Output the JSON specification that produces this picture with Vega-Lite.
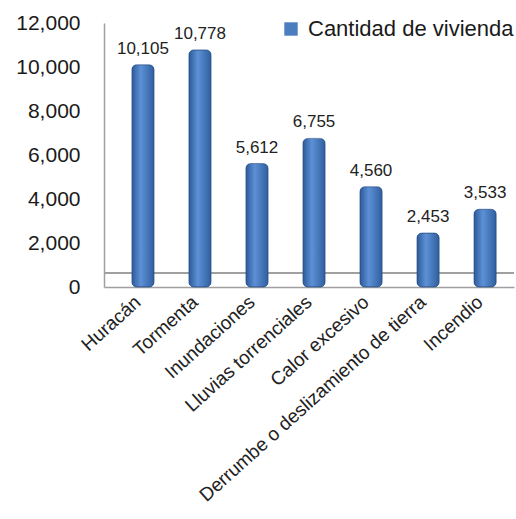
{
  "$schema": "https://vega.github.io/schema/vega-lite/v6.json",
  "autosize": {"type": "none"},
  "width": 410,
  "height": 264,
  "padding": {"left": 104, "top": 23, "right": 2, "bottom": 232},
  "background": "#ffffff",
  "config": {"view": {"stroke": null}, "font": "Liberation Sans"},
  "data": {"values": [
    {"tipo": "Huracán", "cantidad": 10105, "serie": "Cantidad de vivienda"},
    {"tipo": "Tormenta", "cantidad": 10778, "serie": "Cantidad de vivienda"},
    {"tipo": "Inundaciones", "cantidad": 5612, "serie": "Cantidad de vivienda"},
    {"tipo": "Lluvias torrenciales", "cantidad": 6755, "serie": "Cantidad de vivienda"},
    {"tipo": "Calor excesivo", "cantidad": 4560, "serie": "Cantidad de vivienda"},
    {"tipo": "Derrumbe o deslizamiento de tierra", "cantidad": 2453, "serie": "Cantidad de vivienda"},
    {"tipo": "Incendio", "cantidad": 3533, "serie": "Cantidad de vivienda"}
  ]},
  "encoding": {
    "x": {"field": "tipo", "type": "nominal", "sort": null,
      "scale": {"paddingInner": 0.61, "paddingOuter": 0.4, "align": 0.61},
      "axis": {"title": null, "labelAngle": -42, "labelAlign": "right", "labelBaseline": "middle",
        "labelFontSize": 19, "labelColor": "#222222", "ticks": false, "labelPadding": 12, "labelOffset": -5,
        "domainColor": "#a0a0a0", "domainWidth": 1.5, "labelLimit": 400}},
    "y": {"field": "cantidad", "type": "quantitative",
      "scale": {"domain": [0, 12000]},
      "axis": {"title": null, "values": [0, 2000, 4000, 6000, 8000, 10000, 12000], "format": ",.0f",
        "labelFontSize": 21, "labelColor": "#1a1a1a", "ticks": false, "grid": false,
        "labelPadding": 24, "domainColor": "#a0a0a0", "domainWidth": 1.5}}
  },
  "layer": [
    {
      "mark": {"type": "rule", "color": "#a0a0a0", "strokeWidth": 1.5},
      "encoding": {"x": null, "y": {"datum": 640}, "text": null}
    },
    {
      "mark": {"type": "bar", "cornerRadius": 5},
      "encoding": {
        "color": {"field": "serie", "type": "nominal",
          "scale": {"range": ["#4a7ebf"]},
          "legend": {"title": null, "orient": "none", "legendX": 176, "legendY": -5,
            "symbolType": "square", "symbolSize": 180, "labelFontSize": 22, "labelColor": "#1a1a1a",
            "labelLimit": 300, "symbolStrokeWidth": 0, "labelOffset": 6}}
      }
    },
    {
      "mark": {"type": "bar", "cornerRadius": 5, "stroke": "#2a4f85", "strokeWidth": 0.6,
        "fill": {"gradient": "linear", "x1": 0, "x2": 1, "y1": 0, "y2": 0,
          "stops": [{"offset": 0, "color": "#2c5a99"}, {"offset": 0.4, "color": "#5d90d6"}, {"offset": 1, "color": "#2f5f9f"}]}}
    },
    {
      "mark": {"type": "text", "dy": -16, "fontSize": 17, "color": "#222222"},
      "encoding": {"text": {"field": "cantidad", "type": "quantitative", "format": ","}}
    }
  ]
}
